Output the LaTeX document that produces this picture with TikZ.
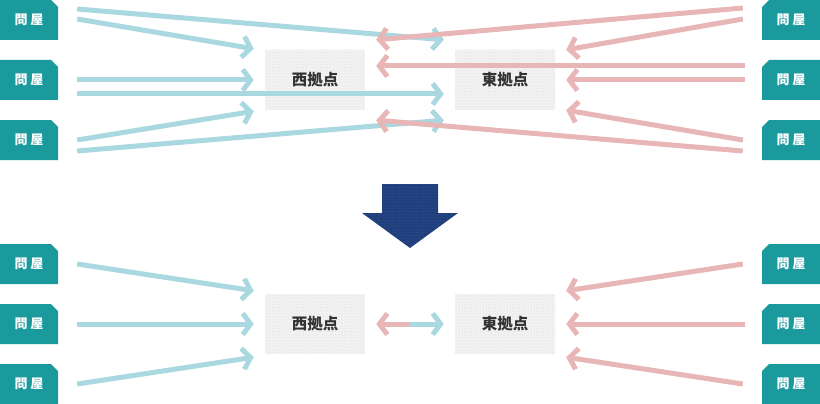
\documentclass[tikz,border=0pt]{standalone}
\usepackage{fontspec}
\usepackage{tikz}
\usetikzlibrary{arrows.meta,patterns,calc}
\newfontfamily\jpfont{Noto Sans CJK JP}
\definecolor{tagteal}{RGB}{26,154,156}
\definecolor{wblue}{RGB}{170,216,224}
\definecolor{epink}{RGB}{232,182,182}
\definecolor{hubgray}{RGB}{242,242,242}
\definecolor{navy}{RGB}{30,62,124}
\definecolor{navydot}{RGB}{70,104,164}
\tikzset{
    tag/.style={text=white,font=\jpfont\bfseries\fontsize{13}{15}\selectfont,inner sep=0pt,
        minimum width=58pt,minimum height=40pt},
    hub/.style={minimum width=100pt,minimum height=60pt,inner sep=0pt,fill=hubgray,
        postaction={pattern=dots,pattern color=gray!35},
        text=black!80,font=\jpfont\bfseries\fontsize{15.5}{18}\selectfont},
    wline/.style={draw=wblue,line width=5pt,-{Straight Barb[length=8pt,width=21pt]}},
    eline/.style={draw=epink,line width=5pt,-{Straight Barb[length=8pt,width=21pt]}},
}
\newcommand\TagL[3]{%
    \fill[tagteal] (#2-29,#3-20) -- (#2+22,#3-20) -- (#2+29,#3-13) -- (#2+29,#3+20) -- (#2-29,#3+20) -- cycle;
    \node[tag] (#1) at (#2,#3) {\raisebox{-1pt}{問\hspace{3pt}屋}};
}
\newcommand\TagR[3]{%
    \fill[tagteal] (#2+29,#3-20) -- (#2-22,#3-20) -- (#2-29,#3-13) -- (#2-29,#3+20) -- (#2+29,#3+20) -- cycle;
    \node[tag] (#1) at (#2,#3) {\raisebox{-1pt}{問\hspace{3pt}屋}};
}
\begin{document}
\begin{tikzpicture}[x=1pt,y=-1pt]
    \useasboundingbox (0,0) rectangle (820,404);
    \TagL{la}{29}{20}
    \TagL{lb}{29}{80}
    \TagL{lc}{29}{140}
    \TagR{ra}{791}{20}
    \TagR{rb}{791}{80}
    \TagR{rc}{791}{140}
    \node[hub] (west) at (315,80) {西拠点};
    \node[hub] (east) at (505,80) {東拠点};
    \draw[wline] ([xshift=19pt,yshift=11pt]la.east) -- ([xshift=-11pt,yshift=10pt]east.north west);
    \draw[wline] ([xshift=19pt,yshift=1pt]la.east) -- ([xshift=-11pt,yshift=1pt]west.north west);
    \draw[wline] ([xshift=19pt]lb.east) -- ([xshift=-11pt]west.west);
    \draw[wline] ([xshift=19pt,yshift=-14pt]lb.east) -- ([xshift=-11pt,yshift=-14pt]east.west);
    \draw[wline] ([xshift=19pt]lc.east) -- ([xshift=-11pt,yshift=-1pt]west.south west);
    \draw[wline] ([xshift=19pt,yshift=-11pt]lc.east) -- ([xshift=-11pt,yshift=-10pt]east.south west);
    \draw[eline] ([xshift=-19pt,yshift=12pt]ra.west) -- ([xshift=11pt,yshift=10pt]west.north east);
    \draw[eline] ([xshift=-19pt,yshift=1pt]ra.west) -- ([xshift=11pt]east.north east);
    \draw[eline] ([xshift=-17pt,yshift=14pt]rb.west) -- ([xshift=11pt,yshift=14pt]west.east);
    \draw[eline] ([xshift=-17pt]rb.west) -- ([xshift=11pt]east.east);
    \draw[eline] ([xshift=-19pt]rc.west) -- ([xshift=11pt]east.south east);
    \draw[eline] ([xshift=-19pt,yshift=-11pt]rc.west) -- ([xshift=11pt,yshift=-10pt]west.south east);
    \fill[navy,postaction={pattern=dots,pattern color=navydot}] (382,184) -- (438,184) -- (438,213) -- (458,213) -- (410,248) -- (362,213) -- (382,213) -- cycle;
    \TagL{ld}{29}{264}
    \TagL{le}{29}{324}
    \TagL{lf}{29}{384}
    \TagR{rd}{791}{264}
    \TagR{re}{791}{324}
    \TagR{rf}{791}{384}
    \node[hub] (west2) at (315,324) {西拠点};
    \node[hub] (east2) at (505,324) {東拠点};
    \coordinate (mid) at ($(west2.east)!0.5!(east2.west)$);
    \draw[wline] ([xshift=19pt]ld.east) -- ([xshift=-11pt,yshift=3pt]west2.north west);
    \draw[wline] ([xshift=19pt]le.east) -- ([xshift=-11pt]west2.west);
    \draw[wline] ([xshift=19pt]lf.east) -- ([xshift=-11pt,yshift=-3pt]west2.south west);
    \draw[eline] ([xshift=-19pt]rd.west) -- ([xshift=11pt,yshift=3pt]east2.north east);
    \draw[eline] ([xshift=-17pt]re.west) -- ([xshift=11pt]east2.east);
    \draw[eline] ([xshift=-19pt]rf.west) -- ([xshift=11pt,yshift=-3pt]east2.south east);
    \draw[eline] (mid) -- ([xshift=11pt]west2.east);
    \draw[wline] (mid) -- ([xshift=-11pt]east2.west);
\end{tikzpicture}
\end{document}
